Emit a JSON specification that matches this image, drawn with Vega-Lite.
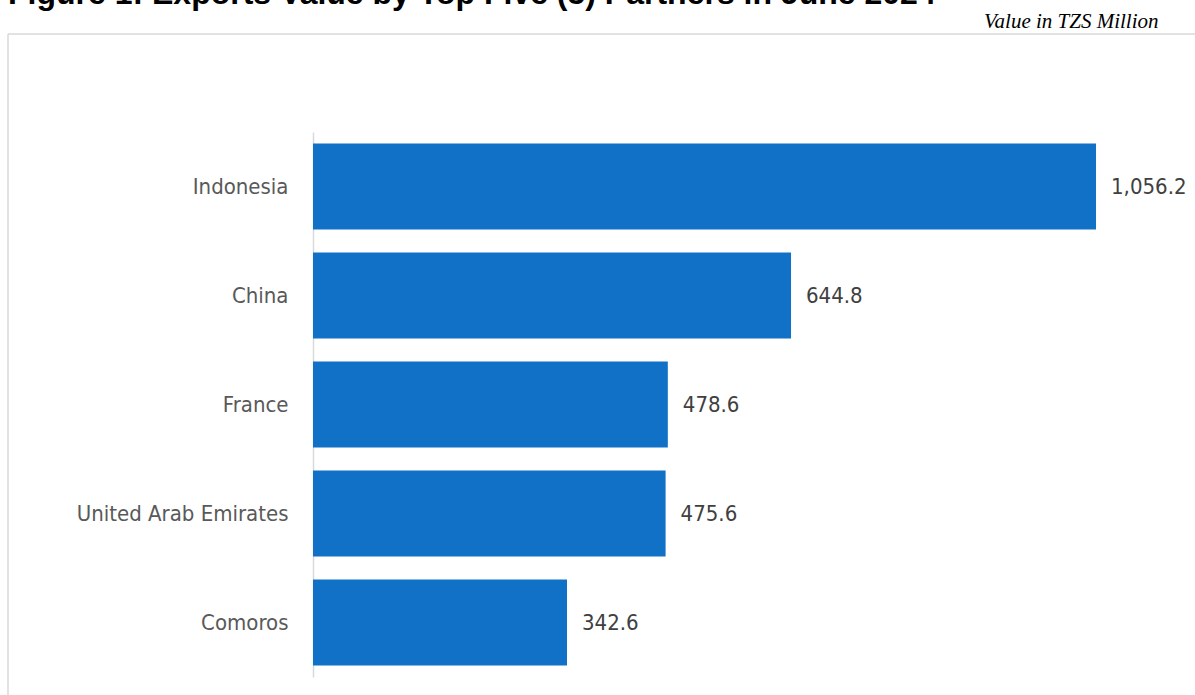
{
  "$schema": "https://vega.github.io/schema/vega-lite/v6.json",
  "width": 1187,
  "height": 661,
  "autosize": {"type": "none"},
  "padding": {"left": 8, "top": 34, "right": 0, "bottom": 0},
  "background": "white",
  "title": {
    "text": "Figure 1: Exports Value by Top Five (5) Partners in June 2024",
    "anchor": "start",
    "frame": "group",
    "font": "Liberation Sans",
    "fontSize": 32,
    "fontWeight": "bold",
    "color": "#000000",
    "baseline": "alphabetic",
    "offset": -26
  },
  "config": {
    "view": {"stroke": "#d9d9d9", "strokeWidth": 1.5, "strokeDash": [1187, 1848, 661, 0]}
  },
  "data": {
    "values": [
      {"country": "Indonesia", "value": 1056.2},
      {"country": "China", "value": 644.8},
      {"country": "France", "value": 478.6},
      {"country": "United Arab Emirates", "value": 475.6},
      {"country": "Comoros", "value": 342.6}
    ]
  },
  "encoding": {
    "y": {
      "field": "country",
      "type": "nominal",
      "sort": null,
      "scale": {"type": "band", "range": [98, 643], "paddingInner": 0.21, "paddingOuter": 0.105},
      "axis": {
        "offset": -305,
        "domainColor": "#d9d9d9",
        "domainWidth": 1.5,
        "ticks": false,
        "grid": false,
        "labelPadding": 25,
        "labelLimit": 0,
        "labelFont": "DejaVu Sans Condensed, Liberation Sans",
        "labelFontSize": 22,
        "labelColor": "#595959",
        "title": null
      }
    },
    "x": {
      "field": "value",
      "type": "quantitative",
      "scale": {"domain": [0, 1100], "range": [305, 1120.5], "nice": false, "zero": false},
      "axis": {
        "orient": "top",
        "domain": false,
        "ticks": false,
        "labels": false,
        "grid": false,
        "title": "Value in TZS Million",
        "titleFont": "Liberation Serif",
        "titleFontStyle": "italic",
        "titleFontWeight": "normal",
        "titleFontSize": 21,
        "titleColor": "#000000",
        "titleX": 1150,
        "titleY": -7,
        "titleAlign": "right",
        "titleBaseline": "alphabetic"
      }
    }
  },
  "layer": [
    {"mark": {"type": "bar", "color": "#1071c6"}},
    {
      "mark": {
        "type": "text",
        "align": "left",
        "baseline": "middle",
        "dx": 15,
        "font": "DejaVu Sans Condensed, Liberation Sans",
        "fontSize": 22,
        "color": "#404040"
      },
      "encoding": {"text": {"field": "value", "type": "quantitative", "format": ",.1f"}}
    }
  ]
}
